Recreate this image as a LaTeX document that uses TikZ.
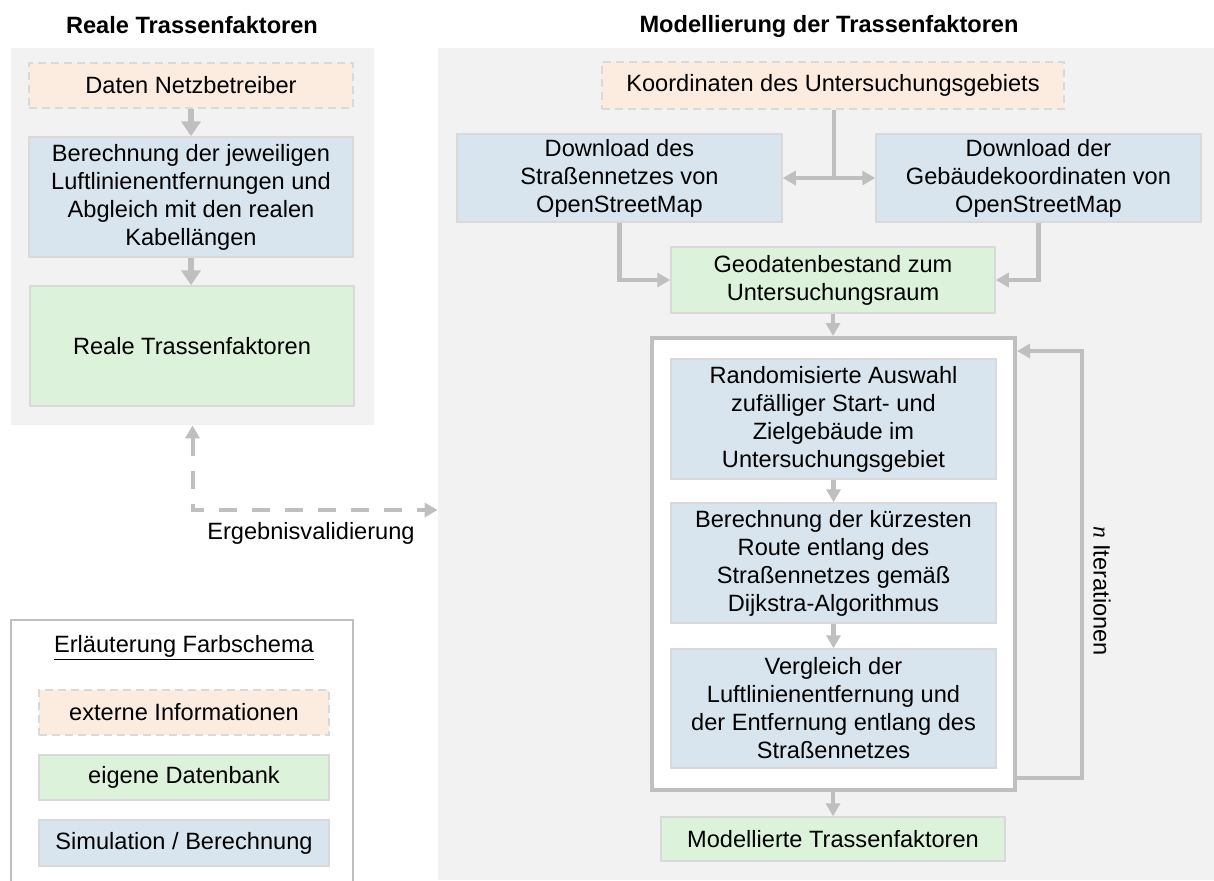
\documentclass[tikz,border=0pt]{standalone}
\usepackage{fontspec}
\setmainfont{Liberation Sans}
\newfontfamily\serifit{Liberation Serif}
\usetikzlibrary{arrows.meta,calc}
\definecolor{panelbg}{HTML}{F2F2F2}
\definecolor{peach}{HTML}{FCEBDF}
\definecolor{simblue}{HTML}{D9E5EE}
\definecolor{dbgreen}{HTML}{DDF2DB}
\definecolor{boxline}{HTML}{D9D9D9}
\definecolor{arrgray}{HTML}{BFBFBF}
\begin{document}
\begin{tikzpicture}[x=0.5pt,y=-0.5pt,
  font=\fontsize{11.8}{14}\selectfont,
  panel/.style={fill=panelbg, inner sep=0pt, draw=none},
  box/.style={draw=boxline, line width=0.75pt, inner sep=0pt, align=center},
  ext/.style={box, fill=peach, dash pattern=on 4pt off 2.5pt},
  sim/.style={box, fill=simblue},
  db/.style={box, fill=dbgreen},
  arr/.style={draw=arrgray, line width=2.2pt, -{Triangle[width=7pt,length=6.5pt]}},
  bigarr/.style={draw=arrgray, line width=2.8pt, -{Triangle[width=9.5pt,length=7.5pt]}},
  dasharr/.style={draw=arrgray, line width=2pt, dash pattern=on 9pt off 7.5pt,
     {Triangle[width=7pt,length=6.5pt]}-{Triangle[width=7pt,length=6.5pt]}},
  ttl/.style={font=\fontsize{11.8}{14}\selectfont\bfseries}
]
\useasboundingbox (0,0) rectangle (1214,880);
\fill[white] (0,0) rectangle (1214,880);

% titles
\node[ttl] (t1) at (192,25) {Reale Trassenfaktoren};
\node[ttl] (t2) at (829,26) {Modellierung der Trassenfaktoren};

% panels
\node[panel, minimum width=181.5pt, minimum height=188.5pt] (lpanel) at (192.5,236.5) {};
\node[panel, minimum width=388pt, minimum height=416pt] (rpanel) at (826,464) {};

% left column
\node[ext, minimum width=162pt, minimum height=22.5pt] (daten) at (191,85.5) {Daten Netzbetreiber};
\node[sim, minimum width=162pt, minimum height=60pt] (berl) at (191,197)
  {Berechnung der jeweiligen\\Luftlinienentfernungen und\\Abgleich mit den realen\\Kabellängen};
\node[db, minimum width=162pt, minimum height=60pt] (reale) at (192,346) {Reale Trassenfaktoren};
\draw[bigarr] (daten) -- (berl);
\draw[bigarr] (berl) -- (berl |- reale.north);

% validation arrow
\coordinate (vc) at (192,510);
\draw[dasharr] (lpanel.south) |- (vc -| rpanel.west);
\node (erg) at (311,533) {Ergebnisvalidierung};

% legend
\draw[draw=arrgray, line width=0.8pt] (11,881) -- (11,620) -- (353,620) -- (353,881);
\node (legt) at (184,648) {\underline{Erläuterung Farbschema}};
\node[ext, minimum width=145pt, minimum height=22.5pt] (l1) at (184,712.5) {externe Informationen};
\node[db, minimum width=145pt, minimum height=22.5pt] (l2) at (184,777.5) {eigene Datenbank};
\node[sim, minimum width=145pt, minimum height=23pt] (l3) at (184,843) {Simulation / Berechnung};

% right column
\node[ext, minimum width=231pt, minimum height=23.5pt] (koord) at (833,85.5) {Koordinaten des Untersuchungsgebiets};
\node[sim, minimum width=162.5pt, minimum height=44pt] (downs) at (619.5,178)
  {Download des\\Straßennetzes von\\OpenStreetMap};
\node[sim, minimum width=162.5pt, minimum height=44pt] (downg) at (1038.5,178)
  {Download der\\Gebäudekoordinaten von\\OpenStreetMap};
\node[db, minimum width=162pt, minimum height=33pt] (geo) at (833,280)
  {Geodatenbestand zum\\Untersuchungsraum};
\coordinate (junc) at (834,178);
\draw[draw=arrgray, line width=2.2pt] (koord.south -| junc) -- (junc);
\draw[arr] (junc) -- (downs.east);
\draw[arr] (junc) -- (downg.west);
\draw[arr] (downs.south) |- (geo.west);
\draw[arr] (downg.south) |- (geo.east);

\node[draw=arrgray, line width=2pt, fill=white, minimum width=181.5pt, minimum height=226pt, inner sep=0pt] (loop) at (833.5,564) {};
\draw[arr] (geo.south) -- (geo.south |- loop.north);

\node[sim, minimum width=162.5pt, minimum height=60pt] (rand) at (833.5,419)
  {Randomisierte Auswahl\\zufälliger Start- und\\Zielgebäude im\\Untersuchungsgebiet};
\node[sim, minimum width=162.5pt, minimum height=60pt] (berk) at (833.5,563)
  {Berechnung der kürzesten\\Route entlang des\\Straßennetzes gemäß\\Dijkstra-Algorithmus};
\node[sim, minimum width=162.5pt, minimum height=59.5pt] (verg) at (833.5,708.5)
  {Vergleich der\\Luftlinienentfernung und\\der Entfernung entlang des\\Straßennetzes};
\draw[arr] (rand) -- (berk);
\draw[arr] (berk) -- (verg);

\node[db, minimum width=172pt, minimum height=22pt] (mod) at (833,839) {Modellierte Trassenfaktoren};
\draw[arr] (loop.south -| mod) -- (mod);

% iteration loop
\coordinate (lb1) at (1082,778);
\coordinate (lb2) at (1082,351);
\draw[arr] (lb1 -| loop.east) -- (lb1) -- (lb2) -- (lb2 -| loop.east);
\node[rotate=-90] (iter) at (1102,591) {{\serifit\itshape n} Iterationen};
\end{tikzpicture}
\end{document}
